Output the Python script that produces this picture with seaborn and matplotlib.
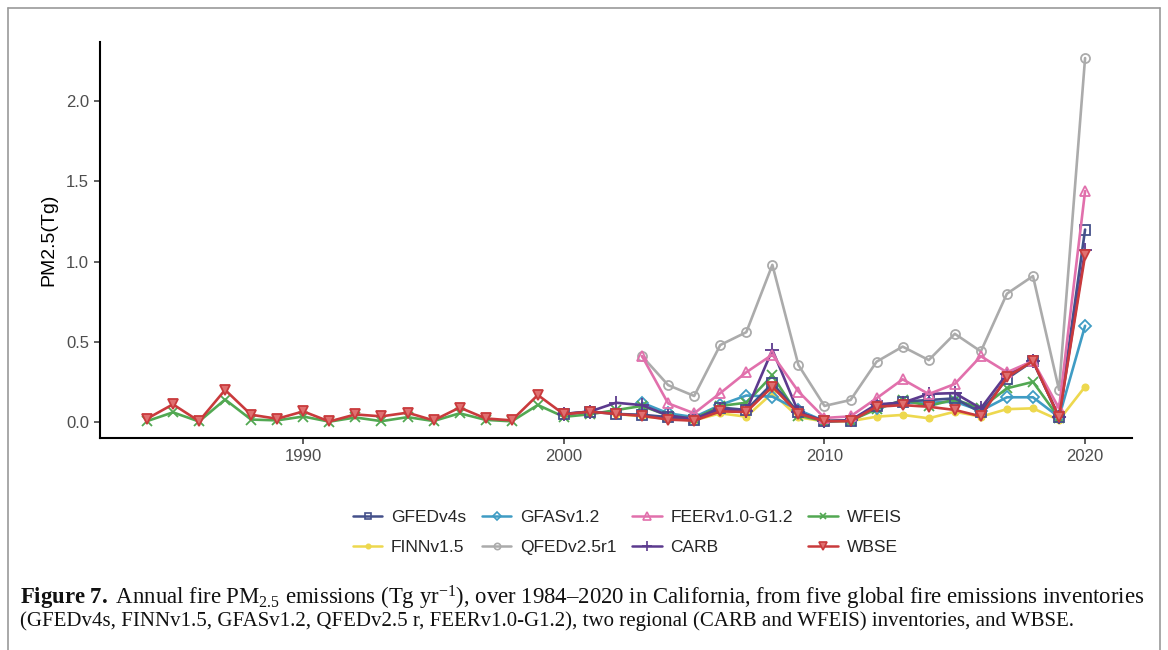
import numpy as np
import pandas as pd
import matplotlib
matplotlib.use("Agg")
import matplotlib.pyplot as plt
from matplotlib.lines import Line2D
import seaborn as sns

# ---------------- data ----------------
years_wbse = list(range(1984, 2021))
wbse = [0.02, 0.11, 0.005, 0.20, 0.045, 0.02, 0.066, 0.003, 0.047, 0.035, 0.058, 0.01,
        0.09, 0.022, 0.01, 0.168, 0.048, 0.064, 0.05, 0.038, 0.015, 0.008, 0.066, 0.062,
        0.22, 0.052, 0.005, 0.005, 0.095, 0.105, 0.095, 0.075, 0.035, 0.28, 0.38, 0.03, 1.04]

years_wfeis = list(range(1984, 2020))
wfeis = [0.005, 0.06, 0.003, 0.14, 0.015, 0.01, 0.034, 0.002, 0.028, 0.005, 0.03, 0.006,
         0.054, 0.013, 0.004, 0.106, 0.032, 0.048, 0.074, 0.10, 0.04, 0.02, 0.10, 0.12,
         0.29, 0.04, 0.005, 0.008, 0.08, 0.137, 0.10, 0.14, 0.085, 0.21, 0.25, 0.025]

years_gfed = list(range(2000, 2021))
gfed = [0.05, 0.065, 0.05, 0.045, 0.03, 0.015, 0.09, 0.075, 0.24, 0.06, 0.005, 0.008,
        0.10, 0.127, 0.137, 0.147, 0.06, 0.27, 0.38, 0.03, 1.20]

years_carb = list(range(2000, 2021))
carb = [0.05, 0.065, 0.12, 0.105, 0.04, 0.02, 0.08, 0.07, 0.45, 0.06, 0.005, 0.01,
        0.11, 0.12, 0.175, 0.18, 0.085, 0.30, 0.38, 0.03, 1.07]

years_finn = list(range(2002, 2021))
finn = [0.05, 0.035, 0.02, 0.01, 0.054, 0.033, 0.18, 0.03, 0.003, 0.005, 0.033, 0.044,
        0.023, 0.064, 0.033, 0.08, 0.085, 0.012, 0.22]

years_gfas = list(range(2003, 2021))
gfas = [0.12, 0.054, 0.03, 0.106, 0.165, 0.158, 0.075, 0.005, 0.01, 0.09, 0.12, 0.12,
        0.127, 0.07, 0.154, 0.154, 0.03, 0.60]

years_qfed = list(range(2003, 2021))
qfed = [0.41, 0.23, 0.162, 0.48, 0.56, 0.98, 0.355, 0.10, 0.137, 0.376, 0.47, 0.386,
        0.55, 0.44, 0.80, 0.91, 0.20, 2.27]

years_feer = list(range(2003, 2021))
feer = [0.41, 0.116, 0.054, 0.18, 0.31, 0.42, 0.19, 0.025, 0.035, 0.148, 0.266, 0.174,
        0.237, 0.41, 0.31, 0.38, 0.085, 1.44]

legend_order = ["GFEDv4s", "FINNv1.5", "GFASv1.2", "QFEDv2.5r1",
                "FEERv1.0-G1.2", "CARB", "WFEIS", "WBSE"]
x_ticks = [1990, 2000, 2010, 2020]
y_ticks = [0.0, 0.5, 1.0, 1.5, 2.0]

series = {
    "QFEDv2.5r1": (years_qfed, qfed),
    "FINNv1.5": (years_finn, finn),
    "GFASv1.2": (years_gfas, gfas),
    "WFEIS": (years_wfeis, wfeis),
    "GFEDv4s": (years_gfed, gfed),
    "CARB": (years_carb, carb),
    "FEERv1.0-G1.2": (years_feer, feer),
    "WBSE": (years_wbse, wbse),
}

styles = {
    "GFEDv4s": dict(color="#44508A", marker="s", mfc="none", ms=6.5),
    "FINNv1.5": dict(color="#EDD84E", marker="o", mfc="#EDD84E", ms=4.5),
    "GFASv1.2": dict(color="#3F9CC4", marker="D", mfc="none", ms=6),
    "QFEDv2.5r1": dict(color="#ABABAB", marker="o", mfc="none", ms=6.5),
    "FEERv1.0-G1.2": dict(color="#E170AC", marker="^", mfc="none", ms=7.5),
    "CARB": dict(color="#5C3A8E", marker="+", mfc="none", ms=10),
    "WFEIS": dict(color="#52A852", marker="x", mfc="none", ms=7),
    "WBSE": dict(color="#C93A3C", marker="v", mfc="#E07070", ms=7.5),
}

frames = []
for name, (yrs, vals) in series.items():
    frames.append(pd.DataFrame({"year": yrs, "pm": vals, "inventory": name}))
df = pd.concat(frames, ignore_index=True)

# ---------------- plot ----------------
sns.set_theme(style="white")
plt.rcParams["font.family"] = ["Liberation Sans", "DejaVu Sans"]
plt.rcParams["mathtext.fontset"] = "custom"
plt.rcParams["mathtext.rm"] = "Liberation Serif"
plt.rcParams["mathtext.it"] = "Liberation Serif:italic"
plt.rcParams["mathtext.bf"] = "Liberation Serif:bold"

fig = plt.figure(figsize=(11.68, 6.5), dpi=100)
ax = fig.add_axes([100 / 1168, 1 - 438 / 650, 1032 / 1168, 396 / 650])

for name in series:
    st = styles[name]
    sub = df[df["inventory"] == name]
    sns.lineplot(data=sub, x="year", y="pm", ax=ax, color=st["color"], lw=1.9,
                 marker=st["marker"], markerfacecolor=st["mfc"],
                 markeredgecolor=st["color"], markersize=st["ms"],
                 markeredgewidth=1.3, legend=False)

ax.set_xlim(1982.2, 2021.8)
ax.set_ylim(-0.1, 2.37)
ax.set_xticks(x_ticks)
ax.set_yticks(y_ticks)
ax.set_yticklabels([f"{v:.1f}" for v in y_ticks])
ax.set_xlabel("")
ax.set_ylabel("PM2.5(Tg)", fontsize=14, color="black", labelpad=6)
ax.tick_params(axis="both", which="both", length=4, width=1.1, color="#333333",
               labelsize=12, labelcolor="#4D4D4D", left=True, bottom=True, pad=4)
for side in ["top", "right"]:
    ax.spines[side].set_visible(False)
for side in ["left", "bottom"]:
    ax.spines[side].set_color("black")
    ax.spines[side].set_linewidth(1.5)
ax.grid(False)

handles = []
for name in legend_order:
    st = styles[name]
    handles.append(Line2D([], [], color=st["color"], lw=1.8, marker=st["marker"],
                          markerfacecolor=st["mfc"], markeredgecolor=st["color"],
                          markersize=st["ms"] * 0.7, markeredgewidth=1.2))
fig.legend(handles, legend_order, loc="center", bbox_to_anchor=(0.537, 0.181),
           ncol=4, frameon=False, fontsize=12.5, handlelength=1.7,
           columnspacing=0.9, handletextpad=0.5, labelspacing=0.85)

# figure border (paper frame)
border_kw = dict(color="#9A9A9A", lw=1.2, transform=fig.transFigure)
fig.add_artist(Line2D([8 / 1168, 1160 / 1168], [1 - 8 / 650, 1 - 8 / 650], **border_kw))
fig.add_artist(Line2D([8 / 1168, 8 / 1168], [0, 1 - 8 / 650], **border_kw))
fig.add_artist(Line2D([1160 / 1168, 1160 / 1168], [0, 1 - 8 / 650], **border_kw))

# caption
cap1 = (r"$\mathbf{Figure\ 7.}$ Annual fire PM$_{2.5}$ emissions (Tg yr$^{-1}$), over 1984–2020 "
        r"in California, from five global fire emissions inventories")
cap2 = ("(GFEDv4s, FINNv1.5, GFASv1.2, QFEDv2.5 r, FEERv1.0-G1.2), two regional "
        "(CARB and WFEIS) inventories, and WBSE.")
fig.text(20 / 1168, 1 - 598 / 650, cap1, fontsize=16.4, family="Liberation Serif",
         va="center", ha="left", color="#111111")
fig.text(20 / 1168, 1 - 621 / 650, cap2, fontsize=15.0, family="Liberation Serif",
         va="center", ha="left", color="#111111")

fig.savefig("out.png", dpi=100, facecolor="white")
